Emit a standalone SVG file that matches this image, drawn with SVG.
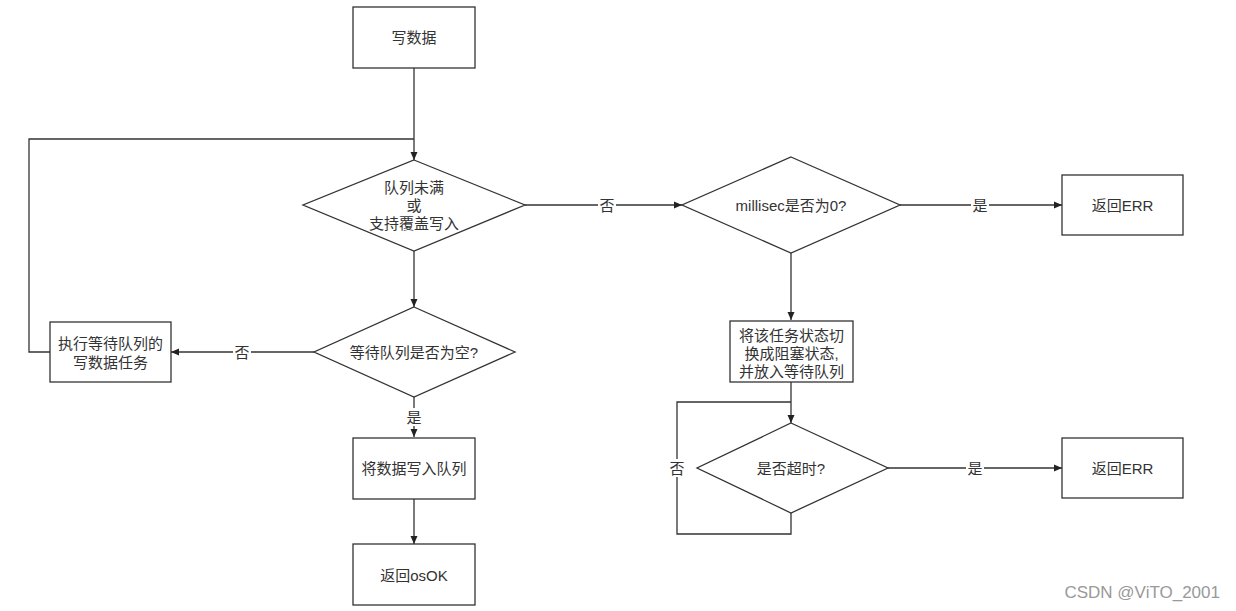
<svg xmlns="http://www.w3.org/2000/svg" width="1236" height="611" viewBox="0 0 1236 611">
<defs>
<marker id="arr" markerWidth="10" markerHeight="10" refX="9" refY="5" orient="auto" markerUnits="userSpaceOnUse">
<path d="M1,1.5 L9,5 L1,8.5 Z" fill="#222"/>
</marker>
<style>
.n{fill:#fff;stroke:#333;stroke-width:1.3}
.t{font-family:"Liberation Sans","Noto Sans CJK SC",sans-serif;font-size:15px;fill:#333;text-anchor:middle;dominant-baseline:central}
.c{fill:none;stroke:#333;stroke-width:1.3}
.lb{fill:#fff}
.wm{font-family:"Liberation Sans","Noto Sans CJK SC",sans-serif;font-size:17px;fill:#999;text-anchor:end}
</style>
</defs>
<rect width="1236" height="611" fill="#fff"/>
<g id="connectors">
<path class="c" d="M414,68 V160" marker-end="url(#arr)"/>
<path class="c" d="M414,251 V307" marker-end="url(#arr)"/>
<path class="c" d="M314,352 H171" marker-end="url(#arr)"/>
<path class="c" d="M50,352 H29 V139 H414"/>
<path class="c" d="M414,397 V437" marker-end="url(#arr)"/>
<path class="c" d="M414,499 V544" marker-end="url(#arr)"/>
<path class="c" d="M525,205 H682" marker-end="url(#arr)"/>
<path class="c" d="M900,205 H1062" marker-end="url(#arr)"/>
<path class="c" d="M791,253 V320" marker-end="url(#arr)"/>
<path class="c" d="M791,382 V423" marker-end="url(#arr)"/>
<path class="c" d="M791,513 V534 H677 V402 H791"/>
<path class="c" d="M888,468 H1062" marker-end="url(#arr)"/>
<rect class="lb" x="233" y="343" width="18" height="18"/>
<text class="t" x="242" y="352">否</text>
<rect class="lb" x="405" y="408" width="18" height="18"/>
<text class="t" x="414" y="417">是</text>
<rect class="lb" x="598" y="196" width="18" height="18"/>
<text class="t" x="607" y="205">否</text>
<rect class="lb" x="971" y="196" width="18" height="18"/>
<text class="t" x="980" y="205">是</text>
<rect class="lb" x="668" y="459" width="18" height="18"/>
<text class="t" x="677" y="468">否</text>
<rect class="lb" x="966" y="459" width="18" height="18"/>
<text class="t" x="975" y="468">是</text>
</g>
<g id="write">
<rect class="n" x="353" y="7" width="122" height="61"/>
<text class="t" x="414" y="37">写数据</text>
</g>
<g id="check_full">
<polygon class="n" points="414,160 525,205 414,251 303,205"/>
<text class="t" x="414" y="187">队列未满</text>
<text class="t" x="414" y="205">或</text>
<text class="t" x="414" y="223">支持覆盖写入</text>
</g>
<g id="check_wait">
<polygon class="n" points="414,307 515,352 414,397 314,352"/>
<text class="t" x="414" y="352">等待队列是否为空?</text>
</g>
<g id="exec_wait">
<rect class="n" x="50" y="322" width="121" height="60"/>
<text class="t" x="110.5" y="343">执行等待队列的</text>
<text class="t" x="110.5" y="362">写数据任务</text>
</g>
<g id="write_queue">
<rect class="n" x="353" y="438" width="122" height="61"/>
<text class="t" x="414" y="468">将数据写入队列</text>
</g>
<g id="ret_ok">
<rect class="n" x="353" y="544" width="122" height="61"/>
<text class="t" x="414" y="575">返回osOK</text>
</g>
<g id="check_ms">
<polygon class="n" points="791,157 900,205 791,253 682,205"/>
<text class="t" x="791" y="205">millisec是否为0?</text>
</g>
<g id="ret_err1">
<rect class="n" x="1062" y="175" width="121" height="60"/>
<text class="t" x="1122.5" y="205">返回ERR</text>
</g>
<g id="block">
<rect class="n" x="730" y="321" width="123" height="61"/>
<text class="t" x="791.5" y="335">将该任务状态切</text>
<text class="t" x="791.5" y="353">换成阻塞状态,</text>
<text class="t" x="791.5" y="371">并放入等待队列</text>
</g>
<g id="check_timeout">
<polygon class="n" points="791,423 888,468 791,513 697,468"/>
<text class="t" x="791" y="468">是否超时?</text>
</g>
<g id="ret_err2">
<rect class="n" x="1062" y="438" width="121" height="60"/>
<text class="t" x="1122.5" y="468">返回ERR</text>
</g>
<text class="wm" x="1220" y="598">CSDN @ViTO_2001</text>
</svg>
